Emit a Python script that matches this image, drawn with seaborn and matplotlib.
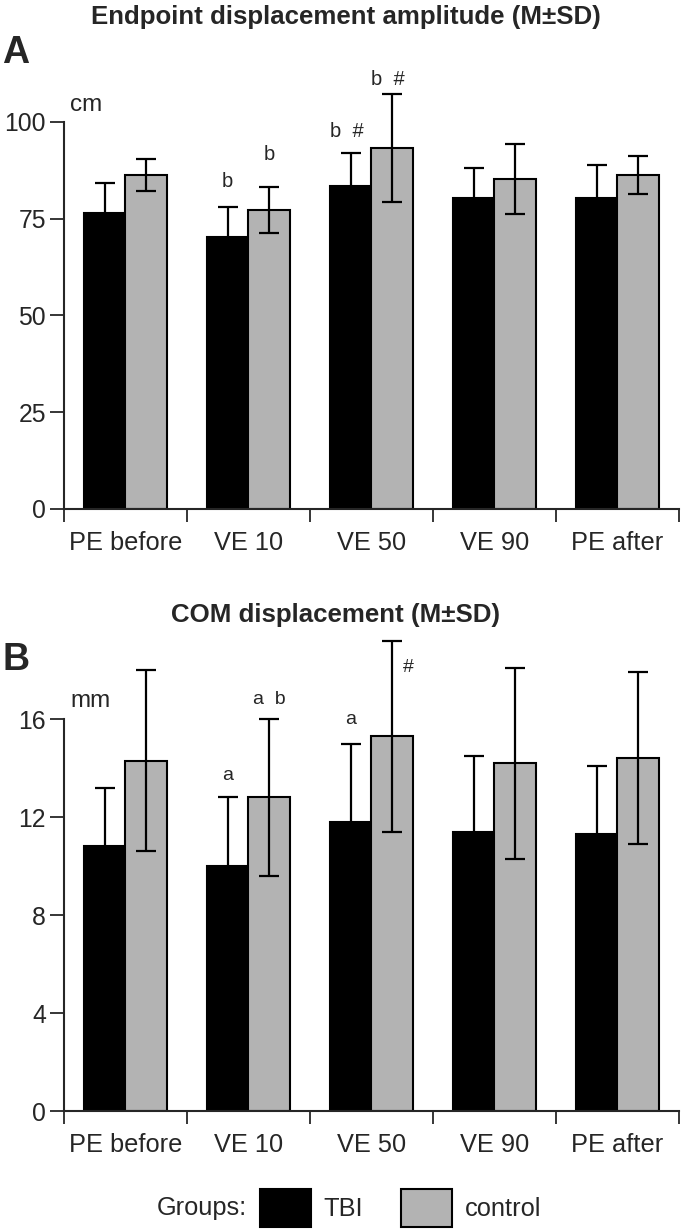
import numpy as np
import pandas as pd
import matplotlib
matplotlib.use("Agg")
import matplotlib.pyplot as plt
from matplotlib.patches import Patch
import seaborn as sns

phases = ["PE before", "VE 10", "VE 50", "VE 90", "PE after"]
groups = ["TBI", "control"]

# panel A, cm
endpoint_tbi = [76.5, 70.4, 83.5, 80.4, 80.4]
endpoint_tbi_sd = [7.7, 7.6, 8.5, 7.7, 8.6]
endpoint_ctrl = [86.3, 77.3, 93.3, 85.3, 86.3]
endpoint_ctrl_sd = [4.2, 6.0, 14.0, 9.0, 5.0]

# panel B, mm
com_tbi = [10.8, 10.0, 11.8, 11.4, 11.3]
com_tbi_sd = [2.4, 2.8, 3.2, 3.1, 2.8]
com_ctrl = [14.3, 12.8, 15.3, 14.2, 14.4]
com_ctrl_sd = [3.7, 3.2, 3.9, 3.9, 3.5]

# significance marks: (phase, group, text, y, x shift in bar widths)
endpoint_marks = [(1, "TBI", "b", 84.5, 0), (1, "control", "b", 91.5, 0),
                  (2, "TBI", "b  #", 97.5, -0.1), (2, "control", "b  #", 111, -0.1)]
com_marks = [(1, "TBI", "a", 13.7, 0), (1, "control", "a  b", 16.8, 0),
             (2, "TBI", "a", 16.0, 0), (2, "control", "#", 18.1, 0.4)]

colors = {"TBI": "black", "control": "#b3b3b3"}
LABEL_SIZE = 18.3


def make_frame(tbi, tbi_sd, ctrl, ctrl_sd):
    rows = []
    for i, p in enumerate(phases):
        rows.append({"phase": p, "group": "TBI", "mean": tbi[i], "sd": tbi_sd[i]})
        rows.append({"phase": p, "group": "control", "mean": ctrl[i], "sd": ctrl_sd[i]})
    return pd.DataFrame(rows)


def draw_panel(ax, df, ylim, yticks, unit, marks, mark_size):
    sns.barplot(data=df, x="phase", y="mean", hue="group", order=phases,
                hue_order=groups, palette=colors, width=0.675, errorbar=None,
                edgecolor="black", linewidth=1.5, saturation=1, legend=False, ax=ax)
    centers = {}
    for g, cont in zip(groups, ax.containers):
        sub = df[df["group"] == g].set_index("phase").loc[phases]
        xs = [b.get_x() + b.get_width() / 2 for b in cont]
        w = cont[0].get_width()
        for p, x in zip(phases, xs):
            centers[(p, g)] = (x, w)
        ax.errorbar(xs, sub["mean"], yerr=sub["sd"], fmt="none", ecolor="black",
                    elinewidth=1.6, capsize=7, capthick=1.6, zorder=5)
    for idx, g, txt, y, dx in marks:
        x, w = centers[(phases[idx], g)]
        ax.text(x + dx * w, y, txt, ha="center", va="center", fontsize=mark_size)

    ax.set_xlim(-0.5, 4.5)
    ax.set_ylim(*ylim)
    ax.set_yticks(yticks)
    ax.set_yticklabels([str(t) for t in yticks])
    ax.spines["left"].set_bounds(0, yticks[-1])
    ax.spines["left"].set_linewidth(1.5)
    ax.spines["bottom"].set_linewidth(1.5)
    sns.despine(ax=ax)
    ax.set_xticks(np.arange(-0.5, 5, 1))
    ax.set_xticklabels([])
    ax.set_xticks(range(5), minor=True)
    ax.set_xticklabels(phases, minor=True)
    ax.tick_params(axis="x", which="major", length=9, width=1.3, direction="out")
    ax.tick_params(axis="x", which="minor", length=0, pad=16, labelsize=LABEL_SIZE)
    ax.tick_params(axis="y", length=10, width=1.3, pad=3, labelsize=17.8)
    ax.set_xlabel("")
    ax.set_ylabel("")
    ax.text(-0.45, yticks[-1] * 1.045, unit, ha="left", va="center", fontsize=17.5)


sns.set_style("ticks")
plt.rcParams["font.family"] = ["Liberation Sans", "DejaVu Sans"]

fig = plt.figure(figsize=(6.85, 12.3), dpi=100)
ax1 = fig.add_axes([0.0934, 0.5862, 0.8978, 0.3524])
ax2 = fig.add_axes([0.0934, 0.0967, 0.8978, 0.3984])

df_a = make_frame(endpoint_tbi, endpoint_tbi_sd, endpoint_ctrl, endpoint_ctrl_sd)
df_b = make_frame(com_tbi, com_tbi_sd, com_ctrl, com_ctrl_sd)
draw_panel(ax1, df_a, (0, 112), [0, 25, 50, 75, 100], "cm", endpoint_marks, 14.5)
draw_panel(ax2, df_b, (0, 20), [0, 4, 8, 12, 16], "mm", com_marks, 14)

fig.text(0.505, 1 - 17 / 1230, "Endpoint displacement amplitude (M±SD)", ha="center",
         va="center", fontsize=18.6, fontweight="bold")
fig.text(0.49, 1 - 615 / 1230, "COM displacement (M±SD)", ha="center",
         va="center", fontsize=18.6, fontweight="bold")
fig.text(0.003, 1 - 53 / 1230, "A", ha="left", va="center", fontsize=27, fontweight="bold")
fig.text(0.003, 1 - 660 / 1230, "B", ha="left", va="center", fontsize=27, fontweight="bold")

fig.text(247 / 685, 1 - 1208 / 1230, "Groups:", ha="right", va="center", fontsize=LABEL_SIZE)
handles = [Patch(facecolor=colors[g], edgecolor="black", linewidth=1.5) for g in groups]
fig.legend(handles, groups, ncol=2, frameon=False, fontsize=LABEL_SIZE,
           loc="center left", bbox_to_anchor=(260 / 685, 1 - 1208 / 1230),
           handlelength=2.0, handleheight=1.9, handletextpad=0.5,
           columnspacing=1.5, borderaxespad=0, borderpad=0)

fig.savefig("out.png", dpi=100)
